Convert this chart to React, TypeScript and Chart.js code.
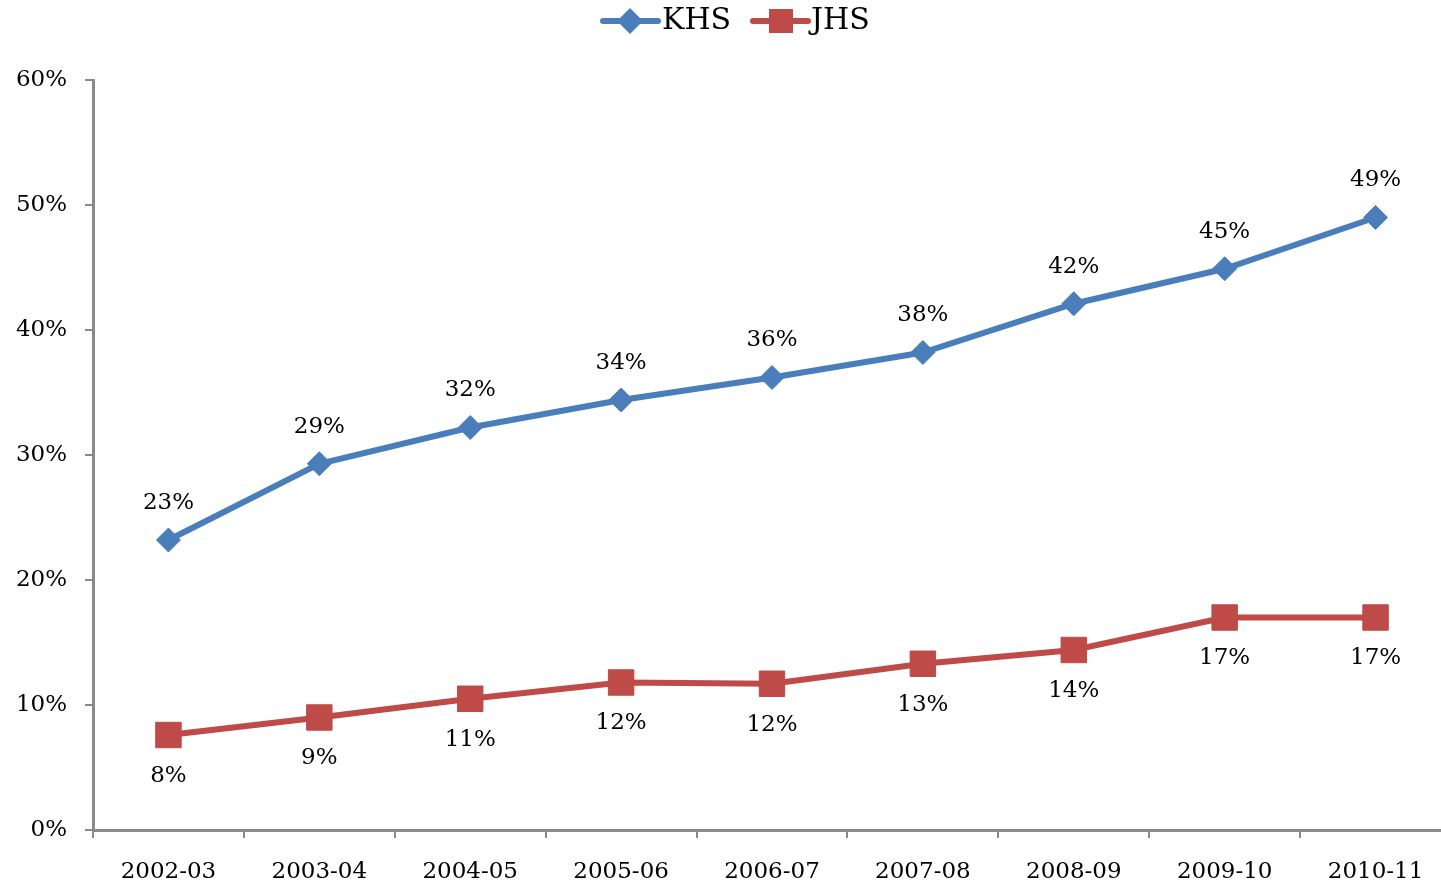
import React, { useEffect, useRef } from "react";
import { Chart, registerables } from "chart.js";

Chart.register(...registerables);

const categories = ["2002-03", "2003-04", "2004-05", "2005-06", "2006-07", "2007-08", "2008-09", "2009-10", "2010-11"];
const khsValues = [23.2, 29.3, 32.2, 34.4, 36.2, 38.2, 42.1, 44.9, 49.0];
const jhsValues = [7.6, 9.0, 10.5, 11.8, 11.7, 13.3, 14.4, 17.0, 17.0];
const khsLabels = ["23%", "29%", "32%", "34%", "36%", "38%", "42%", "45%", "49%"];
const jhsLabels = ["8%", "9%", "11%", "12%", "12%", "13%", "14%", "17%", "17%"];
const seriesNames = ["KHS", "JHS"];
const yMin = 0;
const yMax = 60;
const yStep = 10;

const BLUE = "#4A7EBB";
const RED = "#BE4B48";
const GRAY = "#8A8A8A";
const FONT = "'DejaVu Serif', serif";

const dataLabelPlugin = {
  id: "dataLabels",
  afterDatasetsDraw(chart: any) {
    const ctx = chart.ctx;
    const sets = [
      { labels: khsLabels, offset: -37 },
      { labels: jhsLabels, offset: 41 },
    ];
    ctx.save();
    ctx.font = `23px ${FONT}`;
    ctx.fillStyle = "#000";
    ctx.textAlign = "center";
    ctx.textBaseline = "middle";
    sets.forEach((s, di) => {
      const meta = chart.getDatasetMeta(di);
      meta.data.forEach((pt: any, i: number) => {
        ctx.fillText(s.labels[i], pt.x, pt.y + s.offset);
      });
    });
    ctx.restore();
  },
};

const legendPlugin = {
  id: "customLegend",
  afterDraw(chart: any) {
    const ctx = chart.ctx;
    ctx.save();
    const y = 21;
    ctx.strokeStyle = BLUE;
    ctx.lineWidth = 6;
    ctx.lineCap = "round";
    ctx.beginPath();
    ctx.moveTo(603, y);
    ctx.lineTo(658, y);
    ctx.stroke();
    ctx.fillStyle = BLUE;
    ctx.beginPath();
    ctx.moveTo(630, y - 13);
    ctx.lineTo(643, y);
    ctx.lineTo(630, y + 13);
    ctx.lineTo(617, y);
    ctx.closePath();
    ctx.fill();
    ctx.strokeStyle = RED;
    ctx.beginPath();
    ctx.moveTo(753, y);
    ctx.lineTo(808, y);
    ctx.stroke();
    ctx.fillStyle = RED;
    ctx.fillRect(769, y - 12, 24, 24);
    ctx.fillStyle = "#000";
    ctx.font = `30px ${FONT}`;
    ctx.textAlign = "left";
    ctx.textBaseline = "middle";
    ctx.fillText(seriesNames[0], 662, y);
    ctx.fillText(seriesNames[1], 811, y);
    ctx.restore();
  },
};

export default function App() {
  const ref = useRef<HTMLCanvasElement | null>(null);
  useEffect(() => {
    if (!ref.current) return;
    const chart = new Chart(ref.current, {
      type: "line",
      data: {
        labels: categories,
        datasets: [
          {
            label: seriesNames[0],
            data: khsValues,
            borderColor: BLUE,
            backgroundColor: BLUE,
            borderWidth: 6,
            pointStyle: "rectRot",
            pointRadius: 12,
            pointBorderWidth: 1,
            pointBackgroundColor: BLUE,
            pointBorderColor: BLUE,
            tension: 0,
            clip: false,
          },
          {
            label: seriesNames[1],
            data: jhsValues,
            borderColor: RED,
            backgroundColor: RED,
            borderWidth: 6,
            pointStyle: "rect",
            pointRadius: 18,
            pointBorderWidth: 1,
            pointBackgroundColor: RED,
            pointBorderColor: RED,
            tension: 0,
            clip: false,
          },
        ],
      },
      options: {
        responsive: false,
        animation: false,
        devicePixelRatio: 1,
        layout: { autoPadding: false, padding: { top: 80, right: 9, left: 0, bottom: 0 } },
        plugins: { legend: { display: false }, tooltip: { enabled: false } },
        scales: {
          x: {
            type: "category",
            offset: true,
            grid: {
              offset: true,
              drawOnChartArea: false,
              drawTicks: true,
              tickLength: 8,
              color: GRAY,
              lineWidth: 2,
            },
            border: { display: true, color: GRAY, width: 3 },
            ticks: {
              autoSkip: false,
              maxRotation: 0,
              padding: 20,
              color: "#000",
              font: { family: FONT, size: 23 },
            },
            afterFit(scale: any) {
              scale.height = 56;
              scale.paddingLeft = 0;
              scale.paddingRight = 0;
            },
          },
          y: {
            min: yMin,
            max: yMax,
            grid: {
              drawOnChartArea: false,
              drawTicks: true,
              tickLength: 8,
              color: GRAY,
              lineWidth: 2,
            },
            border: { display: true, color: GRAY, width: 3 },
            ticks: {
              stepSize: yStep,
              padding: 18,
              color: "#000",
              font: { family: FONT, size: 23 },
              callback: (v: any) => `${v}%`,
            },
            afterFit(scale: any) {
              scale.width = 93;
            },
          },
        },
      },
      plugins: [dataLabelPlugin, legendPlugin],
    } as any);
    return () => chart.destroy();
  }, []);

  return (
    <div style={{ position: "fixed", left: 0, top: 0, width: 1441, height: 886, overflow: "hidden", background: "#fff" }}>
      <div style={{ position: "absolute", left: 0, top: 0, width: 1460, height: 886 }}>
        <canvas ref={ref} width={1460} height={886} style={{ width: 1460, height: 886, display: "block" }} />
      </div>
    </div>
  );
}
